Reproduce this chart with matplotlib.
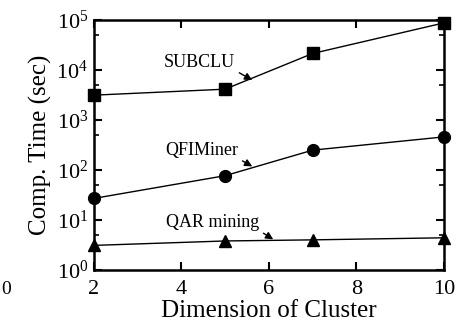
import matplotlib
matplotlib.use("Agg")
import matplotlib.pyplot as plt
from matplotlib.ticker import LogLocator, FixedLocator

plt.rcParams['font.family'] = ['Liberation Serif', 'DejaVu Serif']
plt.rcParams['mathtext.fontset'] = 'custom'
plt.rcParams['mathtext.rm'] = 'Liberation Serif'
plt.rcParams['mathtext.it'] = 'Liberation Serif:italic'

# data
dims = [2, 5, 7, 10]
subclu = [3150, 4150, 21500, 88000]
qfiminer = [27, 77, 250, 460]
qar = [3.1, 3.8, 4.0, 4.4]

fig = plt.figure(figsize=(4.6, 3.3), dpi=100)
ax = fig.add_axes([0.204, 0.182, 0.761, 0.757])

ax.plot(dims, subclu, '-s', color='black', lw=1.0, ms=8, clip_on=False, zorder=3)
ax.plot(dims, qfiminer, '-o', color='black', lw=1.0, ms=8.5, clip_on=False, zorder=3)
ax.plot(dims, qar, '-^', color='black', lw=1.0, ms=8, clip_on=False, zorder=3)

ax.set_yscale('log')
ax.set_xlim(2, 10)
ax.set_ylim(1, 1e5)
ax.xaxis.set_major_locator(FixedLocator([2, 4, 6, 8, 10]))
ax.yaxis.set_major_locator(LogLocator(base=10, numticks=10))
ax.yaxis.set_minor_locator(LogLocator(base=10, subs=[5.0], numticks=10))
ax.yaxis.set_minor_formatter(plt.NullFormatter())

ax.tick_params(which='both', direction='in', top=True, right=True, labelsize=16)
ax.tick_params(which='major', length=6, width=1.5)
ax.tick_params(which='minor', length=3.5, width=1.2)
ax.tick_params(axis='x', pad=7)
ax.tick_params(axis='y', pad=4)
for s in ax.spines.values():
    s.set_linewidth(1.8)

ax.set_xlabel('Dimension of Cluster', fontsize=18, labelpad=1)
ax.set_ylabel('Comp. Time (sec)', fontsize=18, labelpad=3)

arrow = dict(arrowstyle='-|>', color='black', lw=1.0, mutation_scale=11,
             shrinkA=1, shrinkB=0)
ax.annotate('SUBCLU', xy=(5.62, 6300), xytext=(4.42, 14500), fontsize=13,
            ha='center', va='center', arrowprops=dict(arrow, relpos=(1, 0)))
ax.annotate('QFIMiner', xy=(5.62, 118), xytext=(4.47, 250), fontsize=13,
            ha='center', va='center', arrowprops=dict(arrow, relpos=(1, 0)))
ax.annotate('QAR mining', xy=(6.1, 4.1), xytext=(4.72, 9.0), fontsize=13,
            ha='center', va='center', arrowprops=dict(arrow, relpos=(1, 0)))

# stray character at the left edge of the original figure
fig.text(0.002, 0.11, '0', fontsize=14)

fig.savefig('out.png', dpi=100)
